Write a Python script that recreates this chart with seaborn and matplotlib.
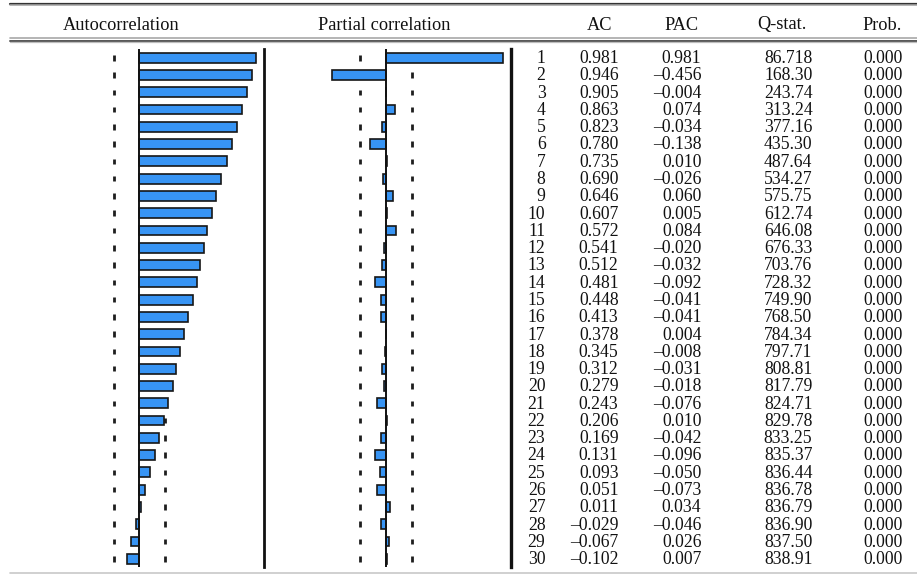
import numpy as np
import pandas as pd
import matplotlib
matplotlib.use("Agg")
import matplotlib.pyplot as plt
import matplotlib.transforms as mtransforms
import seaborn as sns

# Correlogram of the series: lags 1..30
lags = list(range(1, 31))
ac = [0.981, 0.946, 0.905, 0.863, 0.823, 0.780, 0.735, 0.690, 0.646, 0.607,
      0.572, 0.541, 0.512, 0.481, 0.448, 0.413, 0.378, 0.345, 0.312, 0.279,
      0.243, 0.206, 0.169, 0.131, 0.093, 0.051, 0.011, -0.029, -0.067, -0.102]
pac = [0.981, -0.456, -0.004, 0.074, -0.034, -0.138, 0.010, -0.026, 0.060, 0.005,
       0.084, -0.020, -0.032, -0.092, -0.041, -0.041, 0.004, -0.008, -0.031, -0.018,
       -0.076, 0.010, -0.042, -0.096, -0.050, -0.073, 0.034, -0.046, 0.026, 0.007]
q_stat = [86.718, 168.30, 243.74, 313.24, 377.16, 435.30, 487.64, 534.27, 575.75, 612.74,
          646.08, 676.33, 703.76, 728.32, 749.90, 768.50, 784.34, 797.71, 808.81, 817.79,
          824.71, 829.78, 833.25, 835.37, 836.44, 836.78, 836.79, 836.90, 837.50, 838.91]
prob = [0.000] * 30
n_obs = 87
col_headers = ["AC", "PAC", "Q-stat.", "Prob."]
panel_titles = ["Autocorrelation", "Partial correlation"]

df = pd.DataFrame({"lag": lags, "ac": ac, "pac": pac})
bound = 2.0 / np.sqrt(n_obs)

sns.set_theme(style="white")
plt.rcParams["font.family"] = ["Liberation Serif", "DejaVu Serif"]

W, H = 917, 574
fig = plt.figure(figsize=(W / 100, H / 100), dpi=100)
fig.patch.set_facecolor("white")

BAR_COLOR = "#3794f4"
EDGE = "#161616"
XLIM = (-1.03, 1.05)


def px_ax(left, right, top, bottom):
    return [left / W, 1 - bottom / H, (right - left) / W, (bottom - top) / H]


top_px, bot_px = 49.1, 567.4
ax_ac = fig.add_axes(px_ax(139.3 - 1.03 * 119, 139.3 + 1.05 * 119, top_px, bot_px))
ax_pac = fig.add_axes(px_ax(386.0 - 1.03 * 119, 386.0 + 1.05 * 119, top_px, bot_px))

for ax, col, rlw in [(ax_ac, "ac", 2.0), (ax_pac, "pac", 2.4)]:
    sns.barplot(data=df, x=col, y="lag", orient="h", ax=ax, color=BAR_COLOR,
                saturation=1, width=0.57, edgecolor=EDGE, linewidth=1.2, zorder=3)
    # dashed confidence bounds, one short dash per lag row
    ypos = np.arange(len(lags))
    for b in (-bound, bound):
        ax.vlines(np.full(len(lags), b), ypos - 0.16, ypos + 0.16,
                  colors="#1e1e1e", linewidth=2.0, zorder=1)
    ax.axvline(0, color="#111111", lw=1.4, zorder=4)
    ax.set_xlim(*XLIM)
    ax.set_ylim(len(lags) - 0.5, -0.5)
    ax.set_xlabel("")
    ax.set_ylabel("")
    ax.set_xticks([])
    ax.set_yticks([])
    for side in ("left", "top", "bottom"):
        ax.spines[side].set_visible(False)
    ax.spines["right"].set_visible(True)
    ax.spines["right"].set_color("#111111")
    ax.spines["right"].set_linewidth(rlw)
    ax.patch.set_alpha(0)


def fmt_signed(v, nd=3):
    s = f"{abs(v):.{nd}f}"
    return ("\u2013" + s) if v < 0 else s


def fmt_q(v):
    digits = len(str(int(abs(v))))
    return f"{v:.{max(5 - digits, 0)}f}"


# table columns, y follows the lag rows of the bar panels
trans = mtransforms.blended_transform_factory(fig.transFigure, ax_ac.transData)
FS = 12.7
cols_x = [545.5, 618.5, 701.5, 812.5, 902.5]
for i, lag in enumerate(lags):
    yb = i + 0.31
    vals = [str(lag), fmt_signed(ac[i]), fmt_signed(pac[i]), fmt_q(q_stat[i]),
            f"{prob[i]:.3f}"]
    for x, s in zip(cols_x, vals):
        fig.text(x / W, yb, s, transform=trans, ha="right", va="baseline",
                 fontsize=FS, color="#111111")

# header row
HFS = 13.2
hdr_base = 1 - 29.5 / H
for x, s in zip([121, 384], panel_titles):
    fig.text(x / W, hdr_base, s, ha="center", va="baseline", fontsize=HFS, color="#111111")
for x, s in zip([600, 681, 782, 882], col_headers):
    fig.text(x / W, hdr_base, s, ha="center", va="baseline", fontsize=HFS, color="#111111")


# horizontal rules
def hrule(y, color, lw):
    fig.add_artist(plt.Line2D([10 / W, 1.0], [1 - y / H, 1 - y / H],
                              transform=fig.transFigure, color=color, lw=lw))


hrule(3.6, "#333333", 1.6)
hrule(5.2, "#a8a8a8", 1.1)
hrule(38.3, "#a8a8a8", 1.2)
hrule(40.6, "#555555", 1.4)
hrule(42.4, "#bdbdbd", 0.9)
hrule(572.6, "#c8c8c8", 1.2)

fig.savefig("out.png", dpi=100, facecolor="white")
